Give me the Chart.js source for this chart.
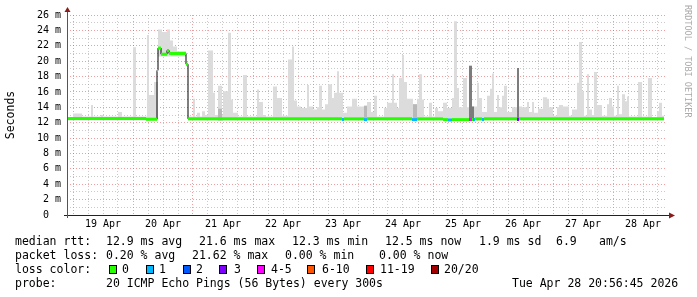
<!DOCTYPE html>
<html>
<head>
<meta charset="utf-8">
<script src="https://cdn.jsdelivr.net/npm/chart.js@4"></script>
<style>
  body { margin: 0; background: #fff; }
  #wrap { position: relative; width: 697px; height: 297px; font-family: "DejaVu Sans Mono", monospace; color: #000; }
  #wrap canvas { position: absolute; left: 0; top: 0; }
  .t { position: absolute; font-size: 11.5px; line-height: 14px; white-space: pre; }
  .box { position: absolute; top: 265px; width: 8px; height: 9px; border: 1px solid #000; box-sizing: border-box; }
  #rrd { position: absolute; left: 683px; top: 5px; writing-mode: vertical-rl; font-size: 8.5px; color: #aaa; }
</style>
</head>
<body>
<div id="wrap">
  <canvas id="chart" width="697" height="297"></canvas>

  <div class="t" style="top:234px;left:15px">median rtt:</div>
  <div class="t" style="top:234px;left:106px">12.9 ms avg</div>
  <div class="t" style="top:234px;left:199px">21.6 ms max</div>
  <div class="t" style="top:234px;left:292px">12.3 ms min</div>
  <div class="t" style="top:234px;left:385px">12.5 ms now</div>
  <div class="t" style="top:234px;left:479px">1.9 ms sd</div>
  <div class="t" style="top:234px;left:556px">6.9</div>
  <div class="t" style="top:234px;left:599px">am/s</div>

  <div class="t" style="top:248px;left:15px">packet loss:</div>
  <div class="t" style="top:248px;left:106px">0.20 % avg</div>
  <div class="t" style="top:248px;left:192px">21.62 % max</div>
  <div class="t" style="top:248px;left:285px">0.00 % min</div>
  <div class="t" style="top:248px;left:379px">0.00 % now</div>

  <div class="t" style="top:262px;left:15px">loss color:</div>
  <div class="box" style="left:109px;background:#26ff00"></div>
  <div class="t" style="top:262px;left:122px">0</div>
  <div class="box" style="left:146px;background:#00b8ff"></div>
  <div class="t" style="top:262px;left:159px">1</div>
  <div class="box" style="left:183px;background:#0059ff"></div>
  <div class="t" style="top:262px;left:196px">2</div>
  <div class="box" style="left:219px;background:#7e00ff"></div>
  <div class="t" style="top:262px;left:234px">3</div>
  <div class="box" style="left:257px;background:#ff00ff"></div>
  <div class="t" style="top:262px;left:271px">4-5</div>
  <div class="box" style="left:307px;background:#ff5500"></div>
  <div class="t" style="top:262px;left:322px">6-10</div>
  <div class="box" style="left:366px;background:#ff0000"></div>
  <div class="t" style="top:262px;left:380px">11-19</div>
  <div class="box" style="left:431px;background:#a10000"></div>
  <div class="t" style="top:262px;left:444px">20/20</div>

  <div class="t" style="top:276px;left:15px">probe:</div>
  <div class="t" style="top:276px;left:106px">20 ICMP Echo Pings (56 Bytes) every 300s</div>
  <div class="t" style="top:276px;left:512px">Tue Apr 28 20:56:45 2026</div>

  <div id="rrd">RRDTOOL / TOBI OETIKER</div>
</div>

<script>
// x values are hours since Apr 18 00:00
const dayLabels = ["19 Apr", "20 Apr", "21 Apr", "22 Apr", "23 Apr",
                   "24 Apr", "25 Apr", "26 Apr", "27 Apr", "28 Apr"];

const lossColors = ["#26ff00", "#00b8ff", "#0059ff", "#7e00ff",
                    "#ff00ff", "#ff5500", "#ff0000", "#a10000"];

// smoke (spread of the 20 pings), step values starting at each hour mark
const smokeHours = [
  21.6, 24.0, 27.6, 31.2, 32.0, 35.2, 36.0, 42.0, 43.6, 48.0,
  49.2, 53.6, 54.4, 56.4, 58.0, 59.6, 61.6, 62.8, 64.0, 65.6,
  69.2, 70.0, 72.0, 72.8, 73.6, 74.8, 75.6, 76.8, 78.0, 80.0,
  80.8, 82.0, 83.6, 84.0, 86.0, 87.2, 88.0, 90.0, 92.0, 93.6,
  97.6, 98.4, 100.0, 101.2, 104.0, 105.6, 107.6, 110.0, 111.6, 112.4,
  113.6, 115.2, 117.6, 118.4, 120.0, 121.6, 122.4, 123.6, 124.8, 126.0,
  127.6, 128.4, 129.6, 130.4, 132.0, 133.6, 135.6, 137.6, 140.4, 141.6,
  143.2, 144.4, 145.6, 148.4, 149.6, 151.6, 152.4, 153.6, 154.4, 155.6,
  156.4, 157.6, 160.0, 161.6, 162.4, 163.6, 164.4, 166.4, 167.6, 168.8,
  170.0, 172.0, 173.6, 175.6, 176.4, 177.6, 178.4, 180.0, 181.6, 182.4,
  183.6, 185.6, 186.4, 187.6, 189.6, 190.8, 191.6, 192.4, 193.6, 194.4,
  195.6, 196.4, 197.6, 199.6, 201.6, 202.4, 203.6, 205.6, 206.4, 207.6,
  208.4, 210.0, 212.0, 213.6, 214.4, 216.0, 217.6, 218.4, 220.0, 222.4,
  223.6, 225.6, 226.4, 227.6, 228.4, 229.6, 230.4, 231.6, 232.4, 233.6,
  235.6, 237.6, 238.4, 239.6, 240.4, 241.6, 242.4, 243.6, 244.8, 245.6,
  246.4, 250.0, 251.6, 254.0, 255.6, 257.6, 258.4, 259.6, 260.4
];
const smokeHigh = [
  12.7, 13.2, 12.8, 14.3, 12.8, 13.0, 12.8, 13.4, 12.8, 21.8,
  12.8, 23.4, 15.6, 17.3, 24.1, 23.8, 24.1, 22.7, 21.9, 21.3,
  19.8, 12.8, 15.1, 12.8, 13.3, 12.8, 13.5, 13.0, 21.4, 15.9,
  13.0, 16.8, 13.0, 16.1, 23.7, 15.0, 13.3, 12.8, 18.2, 12.8,
  16.3, 14.7, 13.0, 12.8, 16.7, 15.2, 12.9, 20.2, 21.9, 14.9,
  14.1, 13.9, 16.9, 14.1, 13.7, 14.0, 16.8, 13.7, 14.4, 17.0,
  15.2, 15.9, 18.7, 15.9, 13.3, 14.1, 15.1, 14.1, 14.2, 14.7,
  13.4, 15.5, 12.8, 13.9, 14.6, 18.3, 14.6, 13.9, 17.8, 20.8,
  17.3, 15.1, 14.4, 15.1, 18.3, 15.0, 12.8, 14.6, 12.8, 13.9,
  13.5, 14.6, 13.9, 15.2, 25.2, 16.5, 14.0, 17.8, 14.0, 19.4,
  14.1, 17.2, 15.2, 13.4, 15.5, 16.4, 18.4, 13.4, 15.6, 14.0,
  15.5, 16.8, 13.4, 14.0, 19.1, 14.1, 14.0, 14.7, 13.4, 14.7,
  13.3, 13.8, 15.3, 15.1, 14.0, 12.9, 14.0, 14.3, 14.1, 12.9,
  13.7, 17.2, 22.5, 16.1, 12.9, 18.3, 13.7, 13.0, 18.6, 14.3,
  12.9, 14.4, 15.2, 14.1, 12.9, 16.8, 13.1, 15.7, 14.8, 15.4,
  12.8, 17.3, 12.8, 17.8, 12.7, 13.5, 14.6, 12.9, 12.9
];
const smokeLow = [
  12.3, 12.3, 12.3, 12.3, 12.3, 12.3, 12.3, 12.3, 12.3, 12.3,
  12.3, 12.3, 12.3, 12.3, 20.6, 20.6, 20.6, 20.6, 20.6, 20.6,
  19.3, 12.3, 12.3, 12.3, 12.3, 12.3, 12.3, 12.3, 12.3, 12.3,
  12.3, 12.3, 12.3, 12.3, 12.3, 12.3, 12.3, 12.3, 12.3, 12.3,
  12.3, 12.3, 12.3, 12.3, 12.3, 12.3, 12.3, 12.3, 12.3, 12.3,
  12.3, 12.3, 12.3, 12.3, 12.3, 12.3, 12.3, 12.3, 12.3, 12.3,
  12.3, 12.3, 12.3, 12.3, 12.3, 12.3, 12.3, 12.3, 12.3, 12.3,
  12.3, 12.3, 12.3, 12.3, 12.3, 12.3, 12.3, 12.3, 12.3, 12.3,
  12.3, 12.3, 12.3, 12.3, 12.3, 12.3, 12.3, 12.3, 12.3, 12.3,
  12.3, 12.3, 12.3, 12.3, 12.3, 12.3, 12.3, 12.3, 12.3, 12.3,
  12.3, 12.3, 12.3, 12.3, 12.3, 12.3, 12.3, 12.3, 12.3, 12.3,
  12.3, 12.3, 12.3, 12.3, 12.3, 12.3, 12.3, 12.3, 12.3, 12.3,
  12.3, 12.3, 12.3, 12.3, 12.3, 12.3, 12.3, 12.3, 12.3, 12.3,
  12.3, 12.3, 12.3, 12.3, 12.3, 12.3, 12.3, 12.3, 12.3, 12.3,
  12.3, 12.3, 12.3, 12.3, 12.3, 12.3, 12.3, 12.3, 12.3, 12.3,
  12.3, 12.3, 12.3, 12.3, 12.3, 12.3, 12.3, 12.3, 12.3
];

// denser parts of the smoke: medium grey and dark grey
const midHours = [21.6, 82.0, 83.6, 140.4, 141.6, 160.0, 161.6, 260.4];
const midHigh  = [12.3, 13.8, 12.3, 14.2, 12.3, 14.4, 12.3, 12.3];
const darkHours = [21.6, 182.4, 183.6, 184.4, 201.6, 202.4, 260.4];
const darkHigh  = [12.3, 19.4, 14.1, 12.3, 19.1, 12.3, 12.3];

// median rtt steps and packet loss class (index into lossColors)
const medHours = [21.6, 53.2, 57.6, 58.0, 59.2, 61.6, 62.4, 69.2, 70.0, 131.6,
                  132.4, 140.4, 141.6, 159.6, 161.6, 172.0, 174.0, 175.6, 182.4, 183.6,
                  184.0, 184.8, 187.6, 188.4, 201.6, 202.4, 260.4];
const medValue = [12.55, 12.45, 18.8, 21.7, 20.9, 21.4, 21.0, 19.6, 12.5, 12.4,
                  12.5, 12.4, 12.5, 12.4, 12.5, 12.4, 12.35, 12.4, 12.4, 12.4,
                  12.4, 12.5, 12.4, 12.5, 12.4, 12.5, 12.5];
const medLoss  = [0, 0, 0, 0, 0, 0, 0, 0, 0, 1,
                  0, 1, 0, 1, 0, 0, 1, 0, 4, 0,
                  1, 0, 1, 0, 3, 0, 0];

const X_MIN = 21.6;
const X_MAX = 261.6;
const MAJOR_GRID = "rgba(224, 80, 80, 0.55)";
const MINOR_GRID = "rgba(150, 150, 150, 0.5)";
const FONT = "DejaVu Sans Mono";

// tick every 6 hours, label at noon
const xTicks = [];
for (let d = 1; d <= 11; d++) {
  [0, 6, 12, 18].forEach((h) => {
    const v = d * 24 + h;
    if (v > X_MIN && v < X_MAX) xTicks.push(v);
  });
}

const toPoints = (xs, ys) => xs.map((x, i) => ({ x: x, y: ys[i] }));

// horizontal pieces of the median, each coloured by its loss class
const medPieces = [];
for (let i = 0; i < medHours.length - 1; i++) {
  medPieces.push({ x: medHours[i], y: medValue[i] });
  medPieces.push({ x: medHours[i + 1], y: medValue[i] });
}

function smokeLayer(points, color, fill, order) {
  return {
    data: points,
    stepped: true,
    borderWidth: 0,
    borderColor: "rgba(0,0,0,0)",
    backgroundColor: color,
    fill: fill,
    order: order,
  };
}

const axisPlugin = {
  id: "rrdAxes",
  afterDatasetsDraw(chart) {
    const { ctx, chartArea: a } = chart;
    ctx.save();
    ctx.lineWidth = 1;
    ctx.strokeStyle = "#222";
    ctx.beginPath();
    ctx.moveTo(a.left - 3, a.bottom + 0.5);
    ctx.lineTo(a.right + 3, a.bottom + 0.5);
    ctx.stroke();
    ctx.strokeStyle = "#555";
    ctx.beginPath();
    ctx.moveTo(a.left + 0.5, a.bottom + 3);
    ctx.lineTo(a.left + 0.5, a.top - 4);
    ctx.stroke();
    ctx.fillStyle = "#8b1a1a";
    ctx.beginPath();
    ctx.moveTo(a.left + 0.5, a.top - 8);
    ctx.lineTo(a.left - 2.5, a.top - 3);
    ctx.lineTo(a.left + 3.5, a.top - 3);
    ctx.fill();
    ctx.beginPath();
    ctx.moveTo(a.right + 8, a.bottom + 0.5);
    ctx.lineTo(a.right + 2, a.bottom - 2.5);
    ctx.lineTo(a.right + 2, a.bottom + 3.5);
    ctx.fill();
    ctx.restore();
  },
};

new Chart(document.getElementById("chart").getContext("2d"), {
  type: "line",
  data: {
    datasets: [
      {
        data: medPieces,
        borderWidth: 3,
        segment: {
          borderColor: (c) =>
            c.p0DataIndex % 2 === 0 ? lossColors[medLoss[c.p0DataIndex / 2]] : "rgba(0,0,0,0)",
        },
        borderColor: lossColors[0],
        fill: false,
        order: 0,
      },
      {
        data: toPoints(medHours, medValue),
        stepped: true,
        borderWidth: 1,
        borderColor: "#000",
        fill: false,
        order: 1,
      },
      smokeLayer(toPoints(darkHours, darkHigh), "#7c7c7c", { value: 12.3 }, 2),
      smokeLayer(toPoints(midHours, midHigh), "#b8b8b8", { value: 12.3 }, 3),
      smokeLayer(toPoints(smokeHours, smokeHigh), "#dcdcdc", "+1", 4),
      smokeLayer(toPoints(smokeHours, smokeLow), "rgba(0,0,0,0)", false, 5),
    ],
  },
  options: {
    responsive: false,
    animation: false,
    layout: { padding: { left: 0, top: 15, right: 30, bottom: 62 } },
    plugins: { legend: { display: false }, tooltip: { enabled: false } },
    elements: { point: { radius: 0 } },
    scales: {
      x: {
        type: "linear",
        min: X_MIN,
        max: X_MAX,
        afterFit: (s) => { s.height = 20; },
        afterBuildTicks: (s) => { s.ticks = xTicks.map((v) => ({ value: v })); },
        grid: {
          drawTicks: false,
          color: (c) => (c.tick && c.tick.value % 24 === 0 ? MAJOR_GRID : MINOR_GRID),
        },
        border: { display: false, dash: [1, 2] },
        ticks: {
          autoSkip: false,
          maxRotation: 0,
          padding: 3,
          color: "#000",
          font: { family: FONT, size: 10 },
          callback: (v) => (v % 24 === 12 ? dayLabels[(v - 36) / 24] : ""),
        },
      },
      y: {
        min: 0,
        max: 26,
        afterFit: (s) => { s.width = 67; },
        grid: {
          drawTicks: false,
          color: (c) => (c.tick && c.tick.value % 2 === 0 ? MAJOR_GRID : MINOR_GRID),
        },
        border: { display: false, dash: [1, 2] },
        ticks: {
          stepSize: 1,
          autoSkip: false,
          padding: 6,
          color: "#000",
          font: { family: FONT, size: 10 },
          callback: (v) => (v % 2 !== 0 ? "" : v === 0 ? "0  " : v + " m"),
        },
        title: {
          display: true,
          text: "Seconds",
          color: "#000",
          font: { family: FONT, size: 11.5 },
          padding: { top: 4, bottom: 0 },
        },
      },
    },
  },
  plugins: [axisPlugin],
});
</script>
</body>
</html>
